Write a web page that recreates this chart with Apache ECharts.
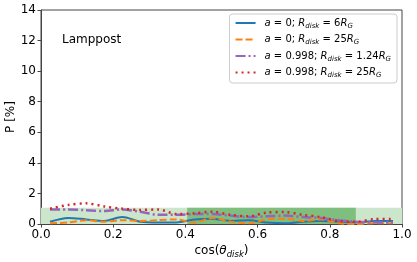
<!DOCTYPE html>
<html><head><meta charset="utf-8">
<script src="https://cdn.jsdelivr.net/npm/echarts@6/dist/echarts.min.js"></script>
<style>html,body{margin:0;padding:0;background:#fff}#c{width:417px;height:262px}</style>
</head><body><div id="c"></div>
<script>
const cosTheta = [0.025,0.075,0.125,0.175,0.225,0.275,0.325,0.375,0.425,0.475,0.525,0.575,0.625,0.675,0.725,0.775,0.825,0.875,0.925,0.975];
const a0_R6    = [0.15,0.40,0.30,0.20,0.45,0.15,0.10,0.10,0.30,0.35,0.20,0.25,0.10,0.05,0.15,0.20,0.15,0.10,0.20,0.20];
const a0_R25   = [0.05,0.10,0.25,0.15,0.25,0.20,0.25,0.30,0.10,0.40,0.15,0.05,0.30,0.35,0.20,0.30,0.05,0.00,0.05,0.05];
const a998_R124= [0.95,0.95,0.90,0.85,0.95,0.80,0.60,0.60,0.65,0.65,0.55,0.45,0.50,0.55,0.45,0.40,0.25,0.15,0.10,0.10];
const a998_R25 = [1.00,1.25,1.35,1.15,1.00,0.92,0.95,0.65,0.70,0.80,0.60,0.50,0.75,0.78,0.60,0.45,0.20,0.15,0.32,0.32];
const lightBand = [0.0, 1.0, 1.07];
const darkBand  = [0.405, 0.872, 1.07];
const xTicks = [0.0,0.2,0.4,0.6,0.8,1.0];
const yTicks = [0,2,4,6,8,10,12,14];
const seriesNames = ['s1','s2','s3','s4'];
const legendTexts = [
  '{i|a} = 0; {i|R}{sub|disk} = 6{i|R}{sub|G}',
  '{i|a} = 0; {i|R}{sub|disk} = 25{i|R}{sub|G}',
  '{i|a} = 0.998; {i|R}{sub|disk} = 1.24{i|R}{sub|G}',
  '{i|a} = 0.998; {i|R}{sub|disk} = 25{i|R}{sub|G}'
];
const FONT = 'DejaVu Sans';
const pairs = arr => cosTheta.map((x,i)=>[x,arr[i]]);
const chart = echarts.init(document.getElementById('c'), null, {renderer:'canvas'});
const rich = {
  i:{fontStyle:'italic',fontFamily:FONT,fontSize:10,color:'#000'},
  sub:{fontStyle:'italic',fontFamily:FONT,fontSize:7,color:'#000',verticalAlign:'bottom',padding:[6,0,0,0]}
};
chart.setOption({
  animation:false,
  textStyle:{fontFamily:FONT},
  title:{text:'Lamppost',left:57,top:29,textStyle:{fontFamily:FONT,fontSize:12,fontWeight:'normal',color:'#000'}},
  grid:{left:41,right:15,top:10,bottom:38,show:true,borderColor:'#444',borderWidth:1,backgroundColor:'transparent',containLabel:false,outerBoundsMode:'none'},
  legend:{
    orient:'vertical',right:20,top:14,
    data:seriesNames,
    itemWidth:20,itemHeight:10,itemGap:5,
    padding:[4,6,4,5],
    borderColor:'#ccc',borderWidth:1,borderRadius:3,backgroundColor:'rgba(255,255,255,0.85)',
    itemStyle:{opacity:0},
    formatter: n => legendTexts[seriesNames.indexOf(n)],
    textStyle:{fontFamily:FONT,fontSize:10,color:'#000',rich:rich,padding:[0,0,0,4]}
  },
  xAxis:{type:'value',min:0,max:1,interval:0.2,
    name:'cos({t|θ}{sub|disk})',nameLocation:'middle',nameGap:18,nameMoveOverlap:false,
    nameTextStyle:{fontFamily:FONT,fontSize:12,color:'#000',rich:{t:{fontStyle:'italic',fontFamily:FONT,fontSize:12,color:'#000'},sub:{fontStyle:'italic',fontFamily:FONT,fontSize:8.5,color:'#000',verticalAlign:'bottom',padding:[8,0,0,0]}}},
    axisLine:{lineStyle:{color:'#444'}},axisTick:{length:3.5,lineStyle:{color:'#444'}},
    axisLabel:{fontFamily:FONT,fontSize:12,color:'#000',margin:5,formatter:v=>v.toFixed(1)},
    splitLine:{show:false}},
  yAxis:{type:'value',min:0,max:14,interval:2,
    name:'P [%]',nameLocation:'middle',nameGap:24,nameMoveOverlap:false,
    nameTextStyle:{fontFamily:FONT,fontSize:12,color:'#000'},
    axisLine:{show:true,lineStyle:{color:'#444'}},axisTick:{show:true,length:3.5,lineStyle:{color:'#444'}},
    axisLabel:{fontFamily:FONT,fontSize:12,color:'#000',margin:5},
    splitLine:{show:false}},
  series:[
    {type:'line',name:'bands',data:[],silent:true,z:1,
      markArea:{silent:true,data:[
        [{xAxis:lightBand[0],yAxis:0,itemStyle:{color:'rgb(204,230,204)'}},{xAxis:lightBand[1],yAxis:lightBand[2]}],
        [{xAxis:darkBand[0],yAxis:0,itemStyle:{color:'rgb(126,190,126)'}},{xAxis:darkBand[1],yAxis:darkBand[2]}]
      ]}},
    {type:'line',name:'s1',data:pairs(a0_R6),showSymbol:false,symbol:'none',z:5,smooth:0.3,
      color:'#1f77b4',lineStyle:{width:2,color:'#1f77b4'}},
    {type:'line',name:'s2',data:pairs(a0_R25),showSymbol:false,symbol:'none',z:5,smooth:0.3,
      color:'#ff7f0e',lineStyle:{width:2,color:'#ff7f0e',type:[7,3]}},
    {type:'line',name:'s3',data:pairs(a998_R124),showSymbol:false,symbol:'none',z:5,smooth:0.3,
      color:'#9467bd',lineStyle:{width:2.5,color:'#9467bd',type:[10,3,2,3]}},
    {type:'line',name:'s4',data:pairs(a998_R25),showSymbol:false,symbol:'none',z:5,smooth:0.3,
      color:'#d62728',lineStyle:{width:2.5,color:'#d62728',type:[2,4]}}
  ]
});
</script></body></html>
